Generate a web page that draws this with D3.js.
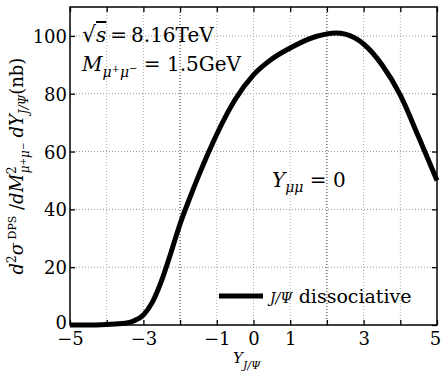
<!DOCTYPE html>
<html>
<head>
<meta charset="utf-8">
<script src="https://cdn.jsdelivr.net/npm/d3@7"></script>
<style>
  body { margin: 0; background: #fff; }
</style>
</head>
<body>
<div id="chart"></div>
<script>
// chart values
var rapidity = [-5, -4.5, -4, -3.5, -3.25, -3, -2.75, -2.5, -2.25, -2, -1.75, -1.5, -1.25, -1, -0.5, 0, 0.5, 1, 1.5, 2, 2.25, 2.5, 3, 3.5, 4, 4.5, 5]
var xsec     = [0, 0, 0.2, 0.6, 1.5, 3.5, 8, 15.5, 25, 35, 43.5, 51.5, 59, 66, 78, 86.5, 92, 95.8, 98.9, 100.7, 101, 100.6, 97.2, 90, 79.5, 65, 50]
var xTickLabels = [-5, -3, -1, 0, 1, 3, 5]
var xTicks = [-5, -4, -3, -2, -1, 0, 1, 2, 3, 4, 5]
var yTicks = [0, 20, 40, 60, 80, 100]
var darkGrid = [-2, 2]

var serif = "DejaVu Serif"

var width = 441,
    height = 381,
    margin = {top: 7, right: 4, bottom: 56, left: 70}

var svg = d3.select("#chart")
  .append("svg")
    .attr("width", width)
    .attr("height", height)
    .attr("font-family", serif)

var x = d3.scaleLinear().domain([-5, 5]).range([margin.left, width - margin.right])
var y = d3.scaleLinear().domain([0, 110]).range([height - margin.bottom, margin.top])

// grid
svg.append("g").selectAll("line")
  .data(yTicks.slice(1))
  .enter().append("line")
    .attr("x1", x(-5)).attr("x2", x(5))
    .attr("y1", function(d) { return y(d) }).attr("y2", function(d) { return y(d) })
    .attr("stroke", "#999").attr("stroke-width", 1).attr("stroke-dasharray", "1,2")

svg.append("g").selectAll("line")
  .data(xTicks.slice(1, -1))
  .enter().append("line")
    .attr("x1", function(d) { return x(d) }).attr("x2", function(d) { return x(d) })
    .attr("y1", y(0)).attr("y2", y(110))
    .attr("stroke", function(d) { return darkGrid.indexOf(d) >= 0 ? "#222" : "#aaa" })
    .attr("stroke-width", 1).attr("stroke-dasharray", "1,2")

// axes, ticks pointing inwards
var xBottom = d3.axisBottom(x).tickValues(xTicks).tickSizeInner(-5).tickSizeOuter(0)
  .tickFormat(function(d) { return xTickLabels.indexOf(d) >= 0 ? (d < 0 ? "\u2212" + (-d) : d) : "" })
var xTop = d3.axisTop(x).tickValues(xTicks).tickSizeInner(-5).tickSizeOuter(0).tickFormat("")
var yLeft = d3.axisLeft(y).tickValues(yTicks).tickSizeInner(-5).tickSizeOuter(0)
var yRight = d3.axisRight(y).tickValues(yTicks).tickSizeInner(-5).tickSizeOuter(0).tickFormat("")

var gx = svg.append("g").attr("transform", "translate(0," + y(0) + ")").call(xBottom)
gx.attr("font-family", serif).attr("font-size", 18)
gx.selectAll("text").attr("dy", 0).attr("y", 20)
  .attr("dx", function(d) { return d === 5 ? -2 : 0 })
svg.append("g").attr("transform", "translate(0," + y(110) + ")").call(xTop)
var gy = svg.append("g").attr("transform", "translate(" + x(-5) + ",0)").call(yLeft)
gy.attr("font-family", serif).attr("font-size", 18)
gy.selectAll("text").attr("x", -3).attr("dy", function(d) { return d === 0 ? "0.2em" : "0.36em" })
svg.append("g").attr("transform", "translate(" + x(5) + ",0)").call(yRight)
svg.selectAll(".domain").remove()
svg.selectAll(".tick line").attr("stroke", "#000").attr("stroke-width", 1.3)

// curve
var line = d3.line()
  .x(function(d, i) { return x(rapidity[i]) })
  .y(function(d) { return y(d) })
  .curve(d3.curveMonotoneX)

svg.append("path")
  .datum(xsec)
  .attr("d", line)
  .attr("fill", "none")
  .attr("stroke", "#000")
  .attr("stroke-width", 5)

// frame
svg.append("rect")
  .attr("x", x(-5)).attr("y", y(110))
  .attr("width", x(5) - x(-5)).attr("height", y(0) - y(110))
  .attr("fill", "none").attr("stroke", "#000").attr("stroke-width", 1.5)

// annotations
var t1 = svg.append("text").attr("x", 82).attr("y", 42).attr("font-size", 20)
t1.append("tspan").attr("font-size", 22).text("\u221A")
t1.append("tspan").attr("font-style", "italic").attr("text-decoration", "overline").text("s")
t1.append("tspan").attr("dx", 4).text("=")
t1.append("tspan").attr("dx", 4).text("8.16TeV")

var t2 = svg.append("text").attr("x", 82).attr("y", 71).attr("font-size", 20)
t2.append("tspan").attr("font-style", "italic").text("M")
t2.append("tspan").attr("font-style", "italic").attr("dy", 6).attr("font-size", 14).text("\u03BC")
t2.append("tspan").attr("dy", -5).attr("font-size", 10).text("+")
t2.append("tspan").attr("font-style", "italic").attr("dy", 5).attr("font-size", 14).text("\u03BC")
t2.append("tspan").attr("dy", -5).attr("font-size", 10).text("\u2212")
t2.append("tspan").attr("dy", -1).text(" = 1.5GeV")

var t3 = svg.append("text").attr("x", 272).attr("y", 187).attr("font-size", 20)
t3.append("tspan").attr("font-style", "italic").text("Y")
t3.append("tspan").attr("font-style", "italic").attr("dy", 5).attr("font-size", 14).text("\u03BC\u03BC")
t3.append("tspan").attr("dy", -5).text(" = 0")

// legend
svg.append("line")
  .attr("x1", 219).attr("x2", 263).attr("y1", 296).attr("y2", 296)
  .attr("stroke", "#000").attr("stroke-width", 5)
var lt = svg.append("text").attr("x", 270).attr("y", 303).attr("font-size", 19)
lt.append("tspan").attr("font-style", "italic").attr("font-size", 14).text("J/\u03A8")
lt.append("tspan").text(" dissociative")

// x label
var xl = svg.append("text").attr("x", 233).attr("y", 363).attr("font-size", 15)
xl.append("tspan").attr("font-style", "italic").text("Y")
xl.append("tspan").attr("font-style", "italic").attr("dy", 6).attr("font-size", 11).text("J/\u03A8")

// y label
var yl = svg.append("text")
  .attr("transform", "translate(23,166) rotate(-90)")
  .attr("text-anchor", "middle")
  .attr("font-size", 18)
yl.append("tspan").attr("font-style", "italic").text("d")
yl.append("tspan").attr("dy", -7).attr("font-size", 12).text("2")
yl.append("tspan").attr("dy", 7).attr("font-style", "italic").text("\u03C3")
yl.append("tspan").attr("dy", -7).attr("font-size", 11).text("  DPS")
yl.append("tspan").attr("dy", 7).text(" /")
yl.append("tspan").attr("font-style", "italic").text("dM")
yl.append("tspan").attr("dy", -7).attr("font-size", 12).text("2")
yl.append("tspan").attr("dx", -7).attr("dy", 13).attr("font-style", "italic").attr("font-size", 12).text("\u03BC")
yl.append("tspan").attr("dy", -3).attr("font-size", 9).text("+")
yl.append("tspan").attr("dy", 3).attr("font-style", "italic").attr("font-size", 12).text("\u03BC")
yl.append("tspan").attr("dy", -3).attr("font-size", 9).text("\u2212")
yl.append("tspan").attr("dy", -3).attr("dx", 5).attr("font-style", "italic").text("dY")
yl.append("tspan").attr("dy", 5).attr("font-style", "italic").attr("font-size", 12).text("J/\u03A8")
yl.append("tspan").attr("dy", -5).text("(nb)")
</script>
</body>
</html>
